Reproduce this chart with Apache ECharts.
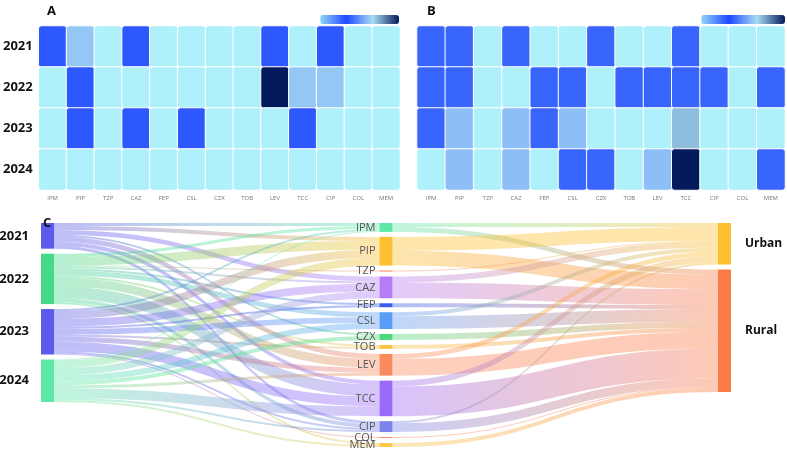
<!DOCTYPE html>
<html>
<head>
<meta charset="utf-8">
<script src="https://cdn.jsdelivr.net/npm/echarts@6/dist/echarts.min.js"></script>
<style>
  html, body { margin: 0; padding: 0; background: #fff; }
  #main { width: 787px; height: 451px; }
</style>
</head>
<body>
<div id="main"></div>
<script>
// categories
const years = ['2021', '2022', '2023', '2024']
const drugs = ['IPM', 'PIP', 'TZP', 'CAZ', 'FEP', 'CSL', 'CZX', 'TOB', 'LEV', 'TCC', 'CIP', 'COL', 'MEM']
const areas = ['Urban', 'Rural']

// heatmap A (rows = years, cols = drugs), 0 = none
const heatA = [
  [37, 62, 0, 37, 0, 0, 0, 0, 37, 0, 37, 0, 0],
  [0, 37, 0, 0, 0, 0, 0, 0, 100, 62, 62, 0, 0],
  [0, 37, 0, 37, 0, 37, 0, 0, 0, 37, 0, 0, 0],
  [0, 0, 0, 0, 0, 0, 0, 0, 0, 0, 0, 0, 0]
]
// heatmap B
const heatB = [
  [40, 40, 0, 40, 0, 0, 40, 0, 0, 40, 0, 0, 0],
  [40, 40, 0, 0, 40, 40, 0, 40, 40, 40, 40, 0, 40],
  [40, 60, 0, 60, 40, 60, 0, 0, 0, 72, 0, 0, 0],
  [0, 60, 0, 60, 0, 40, 40, 0, 60, 100, 0, 0, 40]
]

// sankey flows: year -> drug
const yearDrug = [
  [3, 4, 0, 5, 0, 0, 2, 0, 5, 4, 3, 0, 0],
  [3, 9, 1, 2, 2, 5, 0, 2, 9, 12, 4, 0, 2],
  [2, 8, 0, 8, 2, 6, 0, 2, 5, 10, 2, 1, 0],
  [1, 8, 0, 7, 0, 6, 4, 0, 3, 10, 2, 0, 2]
]
// drug -> area (Urban, Rural)
const drugArea = [
  [4, 5], [14, 15], [1, 0], [6, 16], [0, 4], [4, 13], [0, 6],
  [0, 4], [5, 17], [6, 30], [2, 9], [0, 1], [0, 4]
]

const yearColors = ['#5b5ced', '#45d98a', '#5b5ced', '#5ee8a8']
const drugColors = ['#5ee8a8', '#fbbf2f', '#f87f5a', '#b57cf6', '#3b5cf0', '#5a9cf8', '#4cd97b',
  '#f6c342', '#fb8a5e', '#9b6af8', '#7b83eb', '#f87f5a', '#f9c84a']
const areaColors = ['#fbbf2f', '#fb7a45']

const toCells = (m) => {
  const out = []
  m.forEach((row, y) => row.forEach((v, x) => out.push([x, y, v])))
  return out
}

// sankey nodes and links
const nodes = []
years.forEach((y, i) => nodes.push({
  name: y, itemStyle: { color: yearColors[i] },
  label: { position: 'left', fontWeight: 'bold', fontSize: 13, color: '#111', distance: 12 }
}))
drugs.forEach((d, i) => nodes.push({
  name: d, itemStyle: { color: drugColors[i] },
  label: { position: 'left', fontSize: 11, color: '#555', distance: 4 }
}))
areas.forEach((a, i) => nodes.push({
  name: a, itemStyle: { color: areaColors[i] },
  label: { position: 'right', fontWeight: 'bold', fontSize: 12, color: '#111', distance: 14 }
}))
const links = []
yearDrug.forEach((row, i) => row.forEach((v, j) => {
  if (v > 0) links.push({ source: years[i], target: drugs[j], value: v })
}))
drugArea.forEach((row, i) => row.forEach((v, j) => {
  if (v > 0) links.push({ source: drugs[i], target: areas[j], value: v })
}))

const heatColors = ['#94d6f8', '#1c48ff', '#a9dcf5', '#041a5c']

const axisX = (gi) => ({
  type: 'category', data: drugs, gridIndex: gi,
  axisLine: { show: false }, axisTick: { show: false }, splitArea: { show: false },
  axisLabel: { fontSize: 6, color: '#777', margin: 5 }
})
const axisY = (gi, show) => ({
  type: 'category', data: years, gridIndex: gi, inverse: true,
  axisLine: { show: false }, axisTick: { show: false },
  axisLabel: { show: show, fontSize: 13, fontWeight: 'bold', color: '#111', margin: 6 }
})
const cellStyle = { borderColor: '#fff', borderWidth: 1, borderRadius: 3 }

// range starts above 0 so empty cells get the outOfRange colour
const vm = (idx, left, len) => ({
  type: 'continuous', seriesIndex: idx, min: 0, max: 100, range: [1, 100],
  orient: 'horizontal', left: left, top: 15, itemWidth: 9, itemHeight: len,
  calculable: false, padding: 0,
  inRange: { color: heatColors }, outOfRange: { color: '#aff1fb' }
})

const chart = echarts.init(document.getElementById('main'))
chart.setOption({
  textStyle: { fontFamily: 'Open Sans, DejaVu Sans, sans-serif' },
  title: [
    { text: 'A', left: 42, top: 0, textStyle: { fontSize: 13, fontWeight: 'bold', color: '#111' } },
    { text: 'B', left: 422, top: 0, textStyle: { fontSize: 13, fontWeight: 'bold', color: '#111' } },
    { text: 'C', left: 38, top: 212, textStyle: { fontSize: 13, fontWeight: 'bold', color: '#111' } }
  ],
  grid: [
    { left: 36, top: 26, width: 364, height: 164 },
    { left: 417, top: 26, width: 368, height: 164 }
  ],
  xAxis: [axisX(0), axisX(1)],
  yAxis: [axisY(0, true), axisY(1, false)],
  visualMap: [vm(0, 320, 79), vm(1, 701, 84)],
  series: [
    {
      name: 'A', type: 'heatmap', xAxisIndex: 0, yAxisIndex: 0,
      data: toCells(heatA), itemStyle: cellStyle
    },
    {
      name: 'B', type: 'heatmap', xAxisIndex: 1, yAxisIndex: 1,
      data: toCells(heatB), itemStyle: cellStyle
    },
    {
      type: 'sankey',
      left: 41, right: 56, top: 223, bottom: 4,
      nodeWidth: 13, nodeGap: 5,
      layoutIterations: 0,
      draggable: false,
      data: nodes,
      links: links,
      lineStyle: { color: 'gradient', opacity: 0.4, curveness: 0.5 },
      emphasis: { disabled: true }
    }
  ]
})
</script>
</body>
</html>
